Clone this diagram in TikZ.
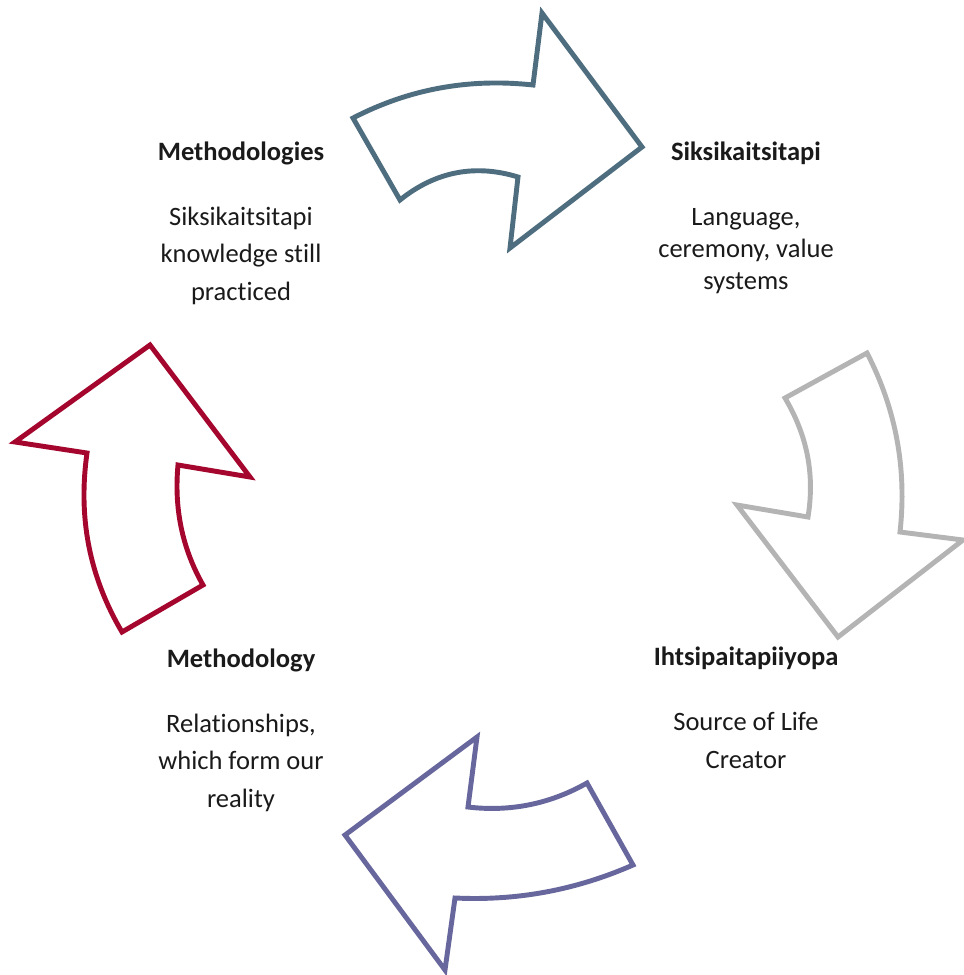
\documentclass[tikz,border=0pt]{standalone}
\usepackage{fontspec}
\setmainfont{Carlito}[Ligatures=NoCommon]
\definecolor{slategrey}{HTML}{4E6E80}
\definecolor{lightgrey}{HTML}{B4B4B4}
\definecolor{dusk}{HTML}{67679E}
\definecolor{crimson}{HTML}{A5062D}
\definecolor{ink}{HTML}{1A1A1A}

\begin{document}
\begin{tikzpicture}[x=0.02cm,y=-0.02cm,
		arrowline/.style={line width=2.8pt,line join=miter,fill=white},
		head/.style={font=\fontsize{15.1}{18}\selectfont\bfseries,text=ink,inner sep=0pt,anchor=base},
		body/.style={font=\fontsize{15.1}{21.3}\selectfont,text=ink,align=center,inner sep=0pt,anchor=base}]
		\useasboundingbox (0,0) rectangle (964,975);
		% arrows, clockwise from the top
		\draw[arrowline,draw=slategrey] (353,118) .. controls (409,89) and (469,78) .. (533,85) -- (542,13) -- (642,147) -- (510,248) -- (518,177) .. controls (476,164) and (436,171) .. (400,200) -- cycle;
		\draw[arrowline,draw=lightgrey] (867,353) .. controls (896,409) and (907,469) .. (900,532) -- (963,540) -- (838,637) -- (737,505) -- (808,517) .. controls (815,474) and (807,435) .. (785,398) -- cycle;
		\draw[arrowline,draw=dusk] (345,835) -- (477,737) -- (468,807) .. controls (510,812) and (550,804) .. (587,783) -- (633,865) .. controls (576,890) and (517,901) .. (455,898) -- (445,970) -- cycle;
		\draw[arrowline,draw=crimson] (150,345) -- (250,477) -- (178,465) .. controls (174,508) and (182,548) .. (203,585) -- (122,632) .. controls (89,576) and (78,517) .. (87,453) -- (15,442) -- cycle;
		% texts (base = last line)
		\node[head] (methods) at (241,160) {Methodologies};
		\node[body] (methodstext) at (241,300) {Siksikaitsitapi\\knowledge still\\practiced};
		\node[head] (blackfoot) at (746,160) {Siksikaitsitapi};
		\node[body,font=\fontsize{15.1}{18.2}\selectfont] (blackfoottext) at (746,289) {Language,\\ceremony, value\\systems};
		\node[head] (source) at (746,665) {Ihtsipaitapiiyopa};
		\node[body] (sourcetext) at (746,768) {Source of Life\\Creator};
		\node[head] (method) at (241,667) {Methodology};
		\node[body] (methodtext) at (241,807) {Relationships,\\which form our\\reality};
	\end{tikzpicture}
\end{document}
